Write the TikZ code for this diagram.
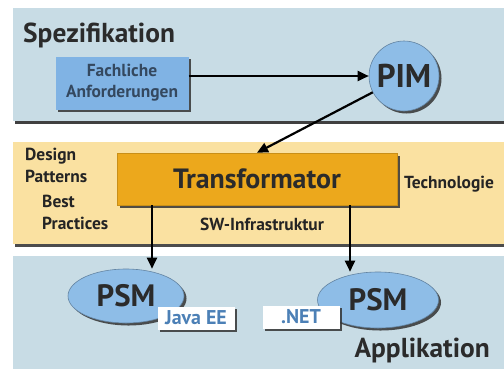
\documentclass[tikz,border=0pt]{standalone}
\usepackage{fontspec}
\setmainfont{PT Sans}
\usetikzlibrary{shapes.geometric,shadows,arrows.meta,positioning}
\definecolor{bandblau}{HTML}{C8DCE5}
\definecolor{bandgelb}{HTML}{FAE1A1}
\definecolor{kastenblau}{HTML}{80B3E4}
\definecolor{modellblau}{HTML}{8EBDE7}
\definecolor{trafogelb}{HTML}{ECA81C}
\definecolor{schrift}{HTML}{2B2B2B}
\definecolor{kastenschrift}{HTML}{34485F}
\definecolor{javablau}{HTML}{4C80B6}
\tikzset{
	schatten/.style={drop shadow={shadow xshift=2.5bp,shadow yshift=-2.5bp,fill=black!80,opacity=.85}},
	pfeil/.style={line width=2.2bp,-{Triangle[length=11bp,width=10bp]}},
	modell/.style={ellipse,fill=modellblau,draw=modellblau!70!black,line width=.6bp,schatten,text=schrift,font=\fontsize{31}{31}\selectfont\bfseries,inner sep=0pt},
	etikett/.style={fill=white,schatten,text=javablau,font=\fontsize{20}{20}\selectfont\bfseries,minimum width=77bp,minimum height=23bp,inner sep=0pt},
	klein/.style={text=schrift!85!black,font=\fontsize{17.5}{22}\selectfont\bfseries,inner sep=0pt,align=left},
	gross/.style={text=schrift,font=\fontsize{27.5}{27.5}\selectfont\bfseries,inner sep=0pt}
}
\begin{document}
\begin{tikzpicture}[x=1bp,y=-1bp]
	\useasboundingbox (0,0) rectangle (504,369);
	% Baender
	\fill[black!75] (15,121) rectangle (504,124);
	\fill[bandblau] (13,8) rectangle (504,121);
	\fill[black!70] (15,244) rectangle (504,247);
	\fill[bandgelb] (13,142) rectangle (504,244);
	\fill[bandblau] (13,256) rectangle (504,369);
	\node[gross,anchor=base west] (spez) at (23,42) {Spezifikation};
	\node[gross,anchor=base east] (appl) at (490,357) {Applikation};
	% Spezifikation
	\node[fill=kastenblau,schatten,minimum width=133bp,minimum height=53bp,inner sep=0pt,
		text=kastenschrift,font=\fontsize{17.5}{21}\selectfont\bfseries,align=center] (fach) at (122,83) {Fachliche\\Anforderungen};
	\node[circle,fill=modellblau,draw=modellblau!70!black,line width=.6bp,schatten,minimum size=70bp,inner sep=0pt,
		text=schrift,font=\fontsize{33}{33}\selectfont\bfseries] (pim) at (404,76) {PIM};
	\draw[pfeil] (fach.east |- pim.west) -- (pim.west);
	% Transformation
	\node[fill=trafogelb,draw=trafogelb!85!black,line width=.6bp,schatten,minimum width=280bp,minimum height=52bp,
		text=schrift,font=\fontsize{28}{28}\selectfont\bfseries] (trafo) at (257,179) {Transformator};
	\draw[pfeil] (pim) -- (trafo.north);
	\node[klein,anchor=north west] (design) at (25,147.5) {Design\\Patterns};
	\node[klein,anchor=north west] (best) at (42,195) {Best\\Practices};
	\node[klein,anchor=base west] (techno) at (404,188) {Technologie};
	\node[klein,anchor=base] (infra) at (262,230) {SW-Infrastruktur};
	% Applikation
	\node[modell,minimum width=116bp,minimum height=54bp] (psmA) at (126,296) {PSM};
	\node[modell,minimum width=121bp,minimum height=56bp] (psmB) at (378,300) {PSM};
	\node[etikett] (java) at (196,318) {Java EE};
	\node[etikett] (net) at (301,317) {.NET};
	\coordinate (linksX) at (152,0);
	\coordinate (rechtsX) at (350,0);
	\draw[pfeil] (trafo.south -| linksX) -- (psmA.north -| linksX);
	\draw[pfeil] (trafo.south -| rechtsX) -- (psmB.north -| rechtsX);
\end{tikzpicture}
\end{document}
